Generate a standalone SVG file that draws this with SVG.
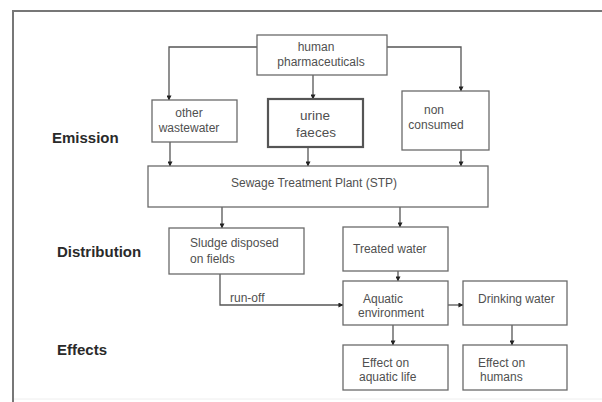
<svg xmlns="http://www.w3.org/2000/svg" width="602" height="402" viewBox="0 0 602 402">
<style>
.box{fill:#fff;stroke:#6a6a6a;stroke-width:1.3}
.thick{stroke-width:2.2;stroke:#555}
.t{font-family:"Liberation Sans",Arial,sans-serif;font-size:12px;fill:#505050}
.c{text-anchor:middle}
.big{font-size:13.5px}
.lab{font-family:"Liberation Sans",Arial,sans-serif;font-size:15px;font-weight:bold;fill:#2a2a2a}
.ln{fill:none;stroke:#555;stroke-width:1.3}
</style>
<defs>
<marker id="ah" viewBox="0 0 6 6" refX="5.5" refY="3" markerWidth="5" markerHeight="5" orient="auto" markerUnits="userSpaceOnUse">
<path d="M0,0 L6,3 L0,6 z" fill="#222"/>
</marker>
</defs>
<rect x="0" y="0" width="602" height="402" fill="#fff"/>
<g id="frame">
<line x1="12" y1="11" x2="602" y2="11" stroke="#777" stroke-width="2"/>
<line x1="13" y1="10" x2="13" y2="402" stroke="#777" stroke-width="2"/>
<line x1="14" y1="399" x2="602" y2="399" stroke="#eee" stroke-width="1"/>
</g>
<g id="labels">
<text class="lab" x="52" y="143">Emission</text>
<text class="lab" x="57" y="257">Distribution</text>
<text class="lab" x="57" y="355">Effects</text>
</g>
<g id="connectors">
<path class="ln" d="M257,47 H169 V100" marker-end="url(#ah)"/>
<path class="ln" d="M313,75 V99" marker-end="url(#ah)"/>
<path class="ln" d="M387,47 H461 V91" marker-end="url(#ah)"/>
<path class="ln" d="M170,142 V166" marker-end="url(#ah)"/>
<path class="ln" d="M308,147 V166" marker-end="url(#ah)"/>
<path class="ln" d="M461,150 V166" marker-end="url(#ah)"/>
<path class="ln" d="M222,207 V228" marker-end="url(#ah)"/>
<path class="ln" d="M400,207 V227" marker-end="url(#ah)"/>
<path class="ln" d="M398,271 V281" marker-end="url(#ah)"/>
<path class="ln" d="M220,274 V305 H343" marker-end="url(#ah)"/>
<path class="ln" d="M448,305 H463" marker-end="url(#ah)"/>
<path class="ln" d="M393,325 V345" marker-end="url(#ah)"/>
<path class="ln" d="M512,325 V345" marker-end="url(#ah)"/>
<text class="t" x="230" y="302">run-off</text>
</g>
<g id="pharma">
<rect class="box" x="257" y="35" width="130" height="40"/>
<text class="t c" x="316" y="51">human</text>
<text class="t c" x="321" y="66">pharmaceuticals</text>
</g>
<g id="other">
<rect class="box" x="152" y="100" width="85" height="42"/>
<text class="t c" x="189" y="117">other</text>
<text class="t c" x="189" y="132">wastewater</text>
</g>
<g id="urine">
<rect class="box thick" x="268" y="99" width="95" height="48"/>
<text class="t c big" x="315" y="120">urine</text>
<text class="t c big" x="316" y="137">faeces</text>
</g>
<g id="nonconsumed">
<rect class="box" x="402" y="91" width="87" height="59"/>
<text class="t c" x="434" y="114">non</text>
<text class="t c" x="436" y="129">consumed</text>
</g>
<g id="stp">
<rect class="box" x="148" y="166" width="340" height="41"/>
<text class="t c" x="314" y="187">Sewage Treatment Plant (STP)</text>
</g>
<g id="sludge">
<rect class="box" x="169" y="228" width="135" height="46"/>
<text class="t" x="190" y="247">Sludge disposed</text>
<text class="t" x="190" y="263">on fields</text>
</g>
<g id="treated">
<rect class="box" x="343" y="227" width="105" height="44"/>
<text class="t" x="353" y="253">Treated water</text>
</g>
<g id="aquatic">
<rect class="box" x="343" y="281" width="105" height="44"/>
<text class="t" x="363" y="303">Aquatic</text>
<text class="t" x="358" y="317">environment</text>
</g>
<g id="drinking">
<rect class="box" x="463" y="281" width="104" height="44"/>
<text class="t" x="478" y="303">Drinking water</text>
</g>
<g id="effect-aquatic">
<rect class="box" x="343" y="345" width="105" height="45"/>
<text class="t" x="362" y="367">Effect on</text>
<text class="t" x="359" y="381">aquatic life</text>
</g>
<g id="effect-humans">
<rect class="box" x="463" y="345" width="104" height="45"/>
<text class="t" x="478" y="367">Effect on</text>
<text class="t" x="480" y="381">humans</text>
</g>
</svg>
